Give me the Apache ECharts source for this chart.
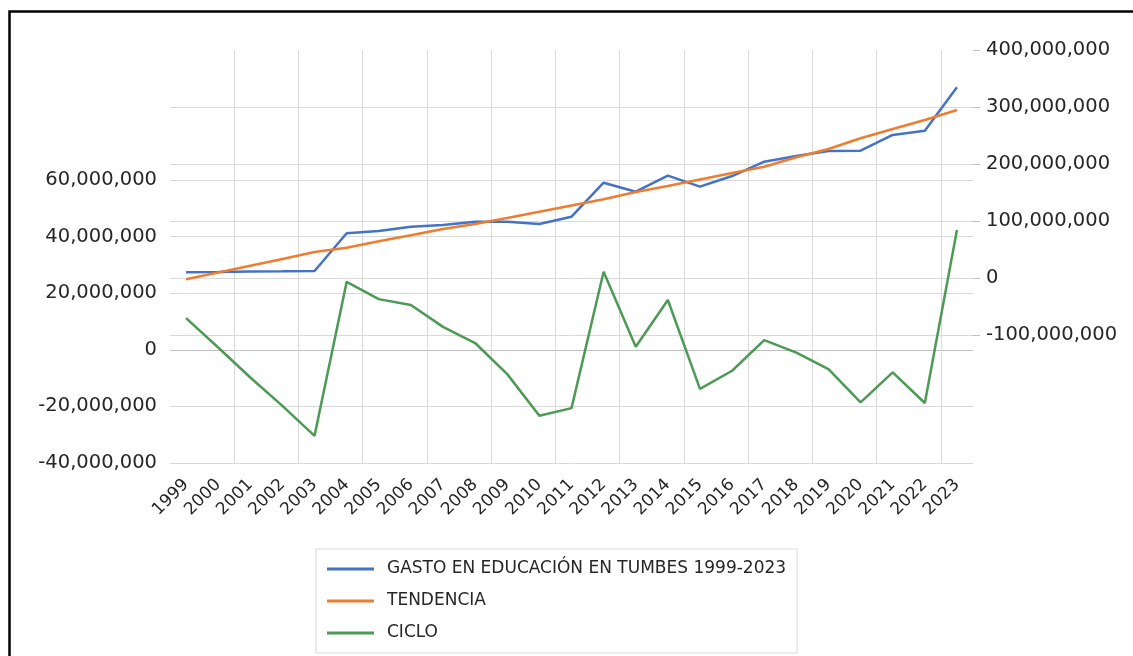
<!DOCTYPE html>
<html>
<head>
<meta charset="utf-8">
<title>Gasto en educación Tumbes</title>
<script src="https://cdn.jsdelivr.net/npm/echarts@6/dist/echarts.min.js"></script>
<style>
  html, body { margin: 0; padding: 0; background: #fff; }
  #chart { width: 1133px; height: 656px; }
</style>
</head>
<body>
<div id="chart"></div>
<script>
const years = ['1999', '2000', '2001', '2002', '2003', '2004', '2005', '2006', '2007', '2008',
  '2009', '2010', '2011', '2012', '2013', '2014', '2015', '2016', '2017', '2018',
  '2019', '2020', '2021', '2022', '2023'];

// right axis
const gasto = [10.0, 10.5, 11.4, 11.8, 12.3, 78.4, 82.5, 90.0, 93.0, 98.8,
  98.8, 94.7, 107.5, 167.2, 151.4, 179.5, 160.2, 178.9, 204.0, 214.0,
  222.8, 223.3, 250.9, 258.4, 334.6].map(v => v * 1e6);
const tendencia = [-2.3, 9.6, 21.6, 33.3, 45.6, 53.2, 64.4, 75.1, 86.0, 94.7,
  105.3, 116.3, 127.2, 138.1, 150.9, 161.4, 172.8, 184.2, 195.3, 211.8,
  226.3, 245.1, 261.4, 277.2, 294.7].map(v => v * 1e6);

// left axis
const ciclo = [11.2, 0.8, -9.8, -19.8, -30.4, 24.0, 17.9, 15.8, 8.1, 2.4,
  -8.6, -23.3, -20.6, 27.6, 1.1, 17.6, -13.8, -7.4, 3.4, -1.0,
  -6.8, -18.6, -8.0, -18.8, 42.3].map(v => v * 1e6);

const leftTicks = [-40e6, 60e6, 20e6];     // min, max, step
const rightTicks = [-100e6, 400e6, 100e6];

const font = 'DejaVu Sans';
const txt = '#262626';
const grid = '#d9d9d9';
const fmt = v => v.toLocaleString('en-US');
const everyOther = (i) => i > 0 && i % 2 === 0;

const chart = echarts.init(document.getElementById('chart'));

chart.setOption({
  animation: false,
  textStyle: { fontFamily: font },
  graphic: [{
    type: 'rect',
    shape: { x: 9.5, y: 11.5, width: 1300, height: 800 },
    style: { fill: 'none', stroke: '#000', lineWidth: 2.5 },
    silent: true
  }],
  grid: [
    { left: 170, right: 160, top: 180, height: 283 },
    { left: 170, right: 160, top: 50, height: 285 }
  ],
  legend: {
    orient: 'vertical',
    left: 316,
    top: 549,
    padding: [10, 11, 10, 11],
    borderColor: '#d9d9d9',
    borderWidth: 1,
    icon: 'rect',
    itemWidth: 47,
    itemHeight: 3,
    itemGap: 12,
    data: ['GASTO EN EDUCACIÓN EN TUMBES 1999-2023', 'TENDENCIA', 'CICLO'],
    textStyle: {
      fontFamily: font,
      fontSize: 17,
      color: txt,
      lineHeight: 20,
      padding: [0, 0, 0, 8]
    }
  },
  xAxis: [
    {
      type: 'category',
      gridIndex: 0,
      data: years,
      boundaryGap: true,
      axisLine: { show: false },
      axisTick: { show: false },
      axisLabel: {
        interval: 0,
        rotate: 45,
        margin: 19,
        fontFamily: font,
        fontSize: 17,
        color: txt
      },
      splitLine: {
        show: true,
        interval: everyOther,
        showMaxLine: false,
        lineStyle: { color: grid, width: 1 }
      }
    },
    {
      type: 'category',
      gridIndex: 1,
      data: years,
      boundaryGap: true,
      axisLine: { show: false },
      axisTick: { show: false },
      axisLabel: { show: false },
      splitLine: {
        show: true,
        interval: everyOther,
        showMaxLine: false,
        lineStyle: { color: grid, width: 1 }
      }
    }
  ],
  yAxis: [
    {
      type: 'value',
      gridIndex: 0,
      position: 'left',
      min: leftTicks[0],
      max: leftTicks[1],
      interval: leftTicks[2],
      axisLine: { show: false },
      axisTick: { show: false },
      axisLabel: {
        margin: 13,
        fontFamily: font,
        fontSize: 19.5,
        color: txt,
        formatter: fmt
      },
      splitLine: {
        lineStyle: {
          color: [grid, grid, '#bfbfbf', grid, grid, grid],
          width: 1
        }
      }
    },
    {
      type: 'value',
      gridIndex: 1,
      position: 'right',
      min: rightTicks[0],
      max: rightTicks[1],
      interval: rightTicks[2],
      axisLine: { show: false },
      axisTick: {
        show: true,
        length: 7,
        lineStyle: { color: '#bfbfbf' }
      },
      axisLabel: {
        margin: 13,
        fontFamily: font,
        fontSize: 19.5,
        color: txt,
        formatter: fmt
      },
      splitLine: {
        lineStyle: {
          color: [grid, grid, grid, grid, grid, 'rgba(0,0,0,0)'],
          width: 1
        }
      }
    }
  ],
  series: [
    {
      name: 'GASTO EN EDUCACIÓN EN TUMBES 1999-2023',
      type: 'line',
      xAxisIndex: 1,
      yAxisIndex: 1,
      data: gasto,
      showSymbol: false,
      symbol: 'none',
      itemStyle: { color: '#4472C4' },
      lineStyle: { color: '#4472C4', width: 2.5 }
    },
    {
      name: 'TENDENCIA',
      type: 'line',
      xAxisIndex: 1,
      yAxisIndex: 1,
      data: tendencia,
      showSymbol: false,
      symbol: 'none',
      itemStyle: { color: '#ED7D31' },
      lineStyle: { color: '#ED7D31', width: 2.5 }
    },
    {
      name: 'CICLO',
      type: 'line',
      xAxisIndex: 0,
      yAxisIndex: 0,
      data: ciclo,
      showSymbol: false,
      symbol: 'none',
      itemStyle: { color: '#4C9A55' },
      lineStyle: { color: '#4C9A55', width: 2.5 }
    }
  ]
});
</script>
</body>
</html>
